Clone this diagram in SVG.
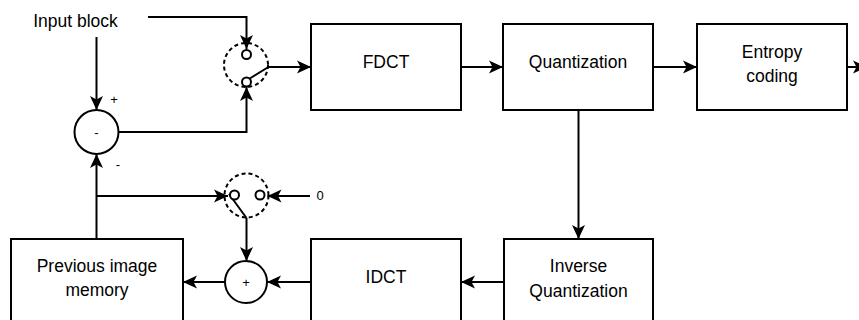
<svg xmlns="http://www.w3.org/2000/svg" width="859" height="320" viewBox="0 0 859 320">
  <defs>
    <marker id="arrow" markerUnits="userSpaceOnUse" markerWidth="15" markerHeight="14" refX="14" refY="6.5" orient="auto" overflow="visible">
      <path d="M0,0 L14,6.5 L0,13 L3.5,6.5 Z" fill="#000"/>
    </marker>
    <style>
      .box { fill: #fff; stroke: #000; stroke-width: 2; }
      .sum { fill: #fff; stroke: #000; stroke-width: 2; }
      .sw { fill: none; stroke: #000; stroke-width: 2; stroke-dasharray: 4 3; }
      .pin { fill: #fff; stroke: #000; stroke-width: 2; }
      .wire { fill: none; stroke: #000; stroke-width: 2; }
      .arr { fill: none; stroke: #000; stroke-width: 2; marker-end: url(#arrow); }
      text { font-family: "Liberation Sans", Arial, sans-serif; font-size: 17.5px; fill: #000; text-anchor: middle; }
      .small { font-size: 13px; }
    </style>
  </defs>

  <!-- connectors -->
  <g id="connectors">
    <!-- input to switch top contact -->
    <polyline class="arr" points="148,17 246.5,17 246.5,49"/>
    <!-- input to subtractor -->
    <polyline class="arr" points="96.5,37 96.5,110"/>
    <!-- subtractor to switch bottom contact -->
    <polyline class="arr" points="118,132 246.5,132 246.5,87"/>
    <!-- switch output to FDCT -->
    <polyline class="arr" points="268.5,67 311,67"/>
    <polyline class="arr" points="461,67 503,67"/>
    <polyline class="arr" points="653,67 697,67"/>
    <polyline class="arr" points="847,67 867,67"/>
    <!-- quantization down -->
    <polyline class="arr" points="578.5,110 578.5,239"/>
    <!-- inverse quantization to IDCT -->
    <polyline class="arr" points="504,282 461,282"/>
    <!-- IDCT to adder -->
    <polyline class="arr" points="311,282 267,282"/>
    <!-- adder to memory -->
    <polyline class="arr" points="225,282 183,282"/>
    <!-- memory feedback to subtractor -->
    <polyline class="arr" points="96.5,239 96.5,154"/>
    <!-- memory to lower switch -->
    <polyline class="arr" points="96.5,196 228,196"/>
    <!-- zero to lower switch -->
    <polyline class="arr" points="310,196 267.5,196"/>
    <!-- lower switch to adder -->
    <polyline class="arr" points="246.5,218 246.5,261"/>
  </g>

  <!-- upper switch -->
  <g id="switch1">
    <circle class="sw" cx="246" cy="65" r="22"/>
    <line class="wire" x1="249" y1="79" x2="268.5" y2="67"/>
    <circle class="pin" cx="246.5" cy="54.5" r="4.5"/>
    <circle class="pin" cx="246.5" cy="82" r="4.5"/>
  </g>

  <!-- lower switch -->
  <g id="switch2">
    <circle class="sw" cx="246.5" cy="195.5" r="22"/>
    <line class="wire" x1="229" y1="194" x2="246.5" y2="218"/>
    <circle class="pin" cx="234.5" cy="195" r="4.5"/>
    <circle class="pin" cx="260" cy="195" r="4.5"/>
  </g>

  <g id="input">
    <text x="75.5" y="27">Input block</text>
  </g>

  <g id="subtractor">
    <circle class="sum" cx="96.5" cy="132" r="22"/>
    <text class="small" x="96.5" y="136.5">-</text>
    <text class="small" x="114" y="104">+</text>
    <text class="small" x="118" y="169">-</text>
  </g>

  <g id="zero">
    <text class="small" x="320" y="200">0</text>
  </g>

  <g id="fdct">
    <rect class="box" x="311" y="24" width="150" height="86"/>
    <text x="386" y="67.5">FDCT</text>
  </g>

  <g id="quantization">
    <rect class="box" x="503" y="24" width="150" height="86"/>
    <text x="578" y="67.5">Quantization</text>
  </g>

  <g id="entropy">
    <rect class="box" x="697" y="24" width="150" height="86"/>
    <text x="772" y="57.5">Entropy</text>
    <text x="772" y="82">coding</text>
  </g>

  <g id="inverse-quantization">
    <rect class="box" x="504" y="239" width="149" height="86"/>
    <text x="578.5" y="272">Inverse</text>
    <text x="578.5" y="296.5">Quantization</text>
  </g>

  <g id="idct">
    <rect class="box" x="311" y="239" width="150" height="86"/>
    <text x="386" y="282.5">IDCT</text>
  </g>

  <g id="adder">
    <circle class="sum" cx="246" cy="282" r="21"/>
    <text class="small" x="246" y="287">+</text>
  </g>

  <g id="memory">
    <rect class="box" x="11" y="239" width="172" height="86"/>
    <text x="97" y="272">Previous image</text>
    <text x="97" y="296">memory</text>
  </g>
</svg>
